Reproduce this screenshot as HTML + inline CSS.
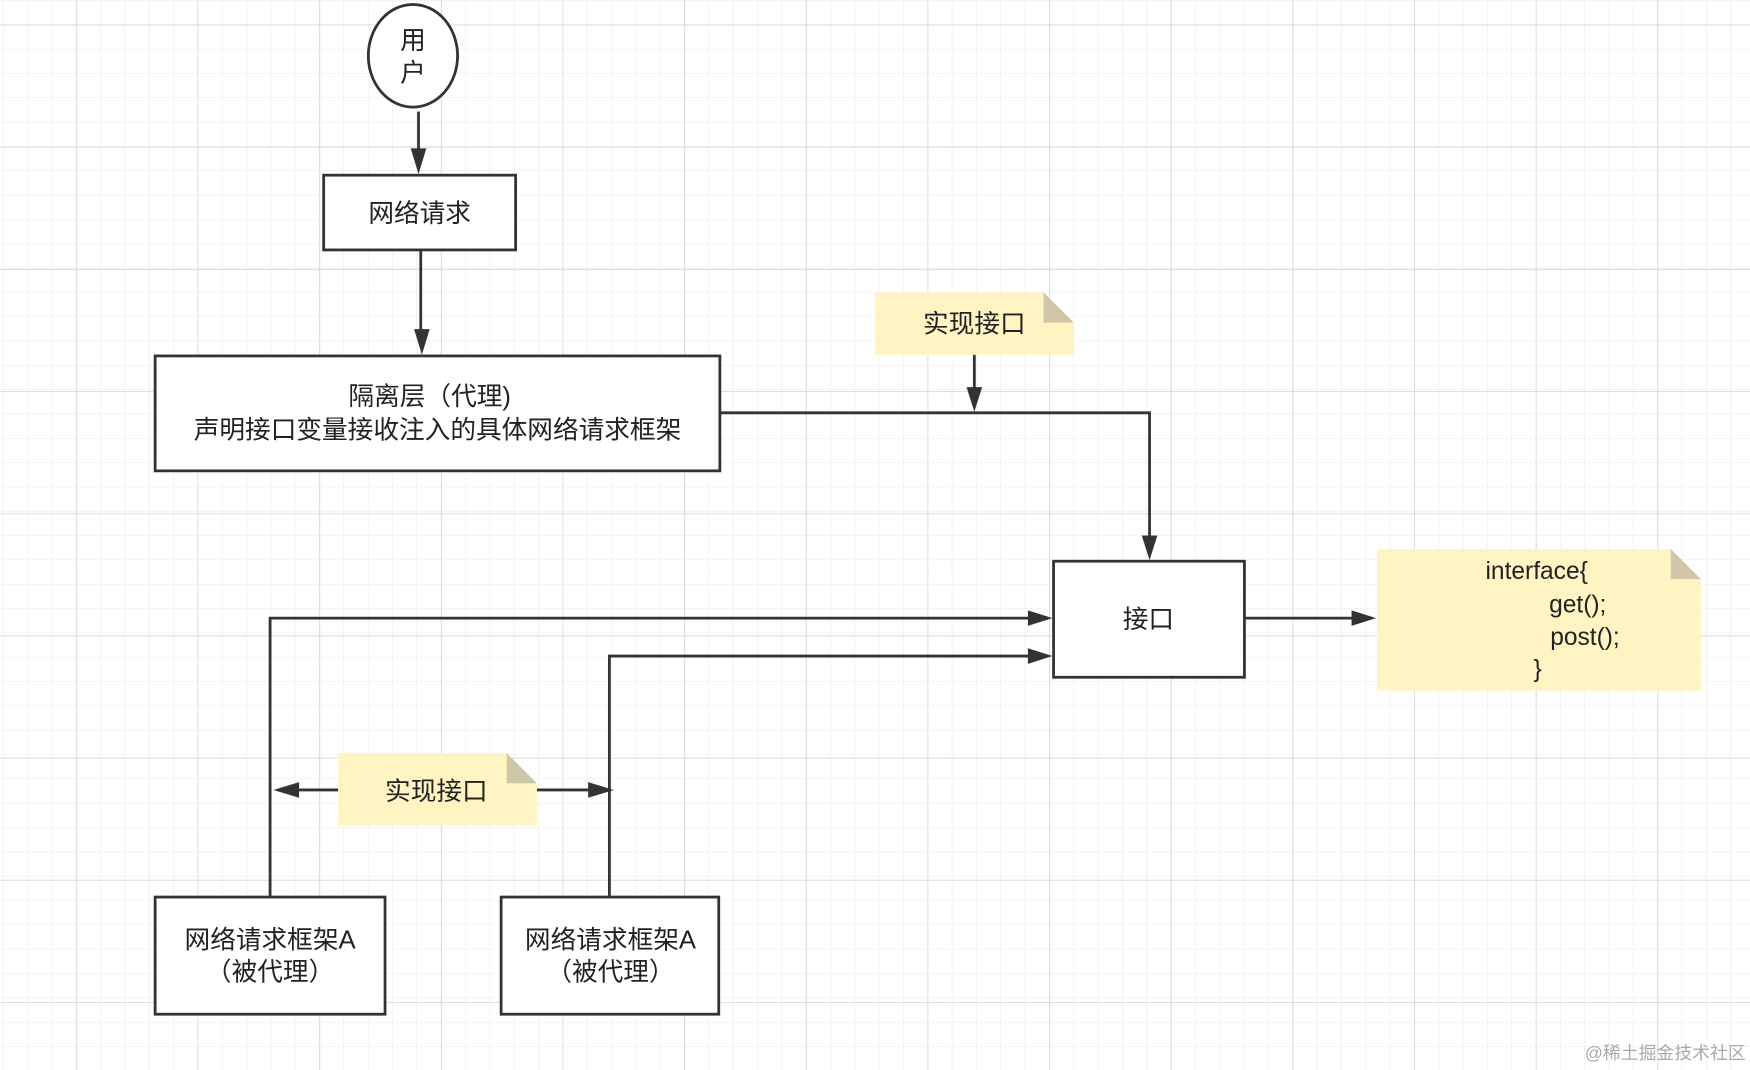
<!DOCTYPE html>
<html><head><meta charset="utf-8"><style>
html,body{margin:0;padding:0;background:#fff;}
svg{display:block;}
text{font-family:"Liberation Sans","Noto Sans CJK SC",sans-serif;fill:#222;}
</style></head><body>
<svg width="1750" height="1070" viewBox="0 0 1568 959" preserveAspectRatio="none" xmlns="http://www.w3.org/2000/svg">
<defs>
<pattern id="minor" x="2.6" y="0.2" width="21.8" height="21.8" patternUnits="userSpaceOnUse">
<path d="M0 0H21.8M0 0V21.8" stroke="#e8e8e8" stroke-width="1" fill="none"/>
</pattern>
<pattern id="major" x="68" y="22" width="109" height="109.5" patternUnits="userSpaceOnUse">
<path d="M0 0H109M0 0V109.5" stroke="#d8d8d8" stroke-width="1.6" fill="none"/>
</pattern>
</defs>
<rect width="1568" height="959" fill="#fff"/>
<rect width="1568" height="959" fill="url(#minor)"/>
<rect width="1568" height="959" fill="url(#major)"/>

<g stroke="#333" stroke-width="2.5" fill="none">
<ellipse cx="370" cy="50" rx="40" ry="46" fill="#fff"/>
<rect x="290" y="157" width="172" height="67" fill="#fff"/>
<rect x="139" y="319" width="506" height="103" fill="#fff"/>
<rect x="944" y="503" width="171" height="104" fill="#fff"/>
<rect x="139" y="804" width="206" height="105" fill="#fff"/>
<rect x="449" y="804" width="195" height="105" fill="#fff"/>
<path d="M375 100V138"/>
<path d="M377 224V300"/>
<path d="M645 370H1030V484"/>
<path d="M873 318V352"/>
<path d="M1115 554H1214"/>
<path d="M242 804V554H925"/>
<path d="M546 804V588H925"/>
<path d="M303 708H264"/>
<path d="M481 708H531"/>
</g>
<g fill="#333">
<polygon points="368,133 382,133 375,156"/>
<polygon points="371,295 385,295 378,318"/>
<polygon points="1023,480 1037,480 1030,502"/>
<polygon points="866,347 880,347 873,369"/>
<polygon points="1211,547 1211,561 1233,554"/>
<polygon points="921,547 921,561 943,554"/>
<polygon points="921,581 921,595 943,588"/>
<polygon points="268,701 268,715 245,708"/>
<polygon points="527,701 527,715 550,708"/>
</g>

<polygon points="784,262 935,262 962,289 962,318 784,318" fill="#fff4c2"/>
<polygon points="935,262 962,289 935,289" fill="#cfc6a8"/>
<polygon points="303,675 454,675 481,702 481,740 303,740" fill="#fff4c2"/>
<polygon points="454,675 481,702 454,702" fill="#cfc6a8"/>
<polygon points="1234,492 1497,492 1524,519 1524,619 1234,619" fill="#fff4c2"/>
<polygon points="1497,492 1524,519 1497,519" fill="#cfc6a8"/>

<g font-size="23" text-anchor="middle">
<text x="370" y="44">用</text>
<text x="370" y="73">户</text>
<text x="376" y="199">网络请求</text>
<text x="385" y="363">隔离层（代理)</text>
<text x="392" y="393">声明接口变量接收注入的具体网络请求框架</text>
<text x="873" y="298">实现接口</text>
<text x="391" y="717">实现接口</text>
<text x="1029" y="563">接口</text>
<text x="242" y="850">网络请求框架A</text>
<text x="242" y="879">（被代理）</text>
<text x="547" y="850">网络请求框架A</text>
<text x="547" y="879">（被代理）</text>
</g>
<g font-size="22">
<text x="1331" y="519">interface{</text>
<text x="1388" y="549">get();</text>
<text x="1389" y="578">post();</text>
<text x="1374" y="607">}</text>
</g>
<text x="1420" y="949" font-size="16" style="fill:#aaa">@稀土掘金技术社区</text>
</svg>
</body></html>
